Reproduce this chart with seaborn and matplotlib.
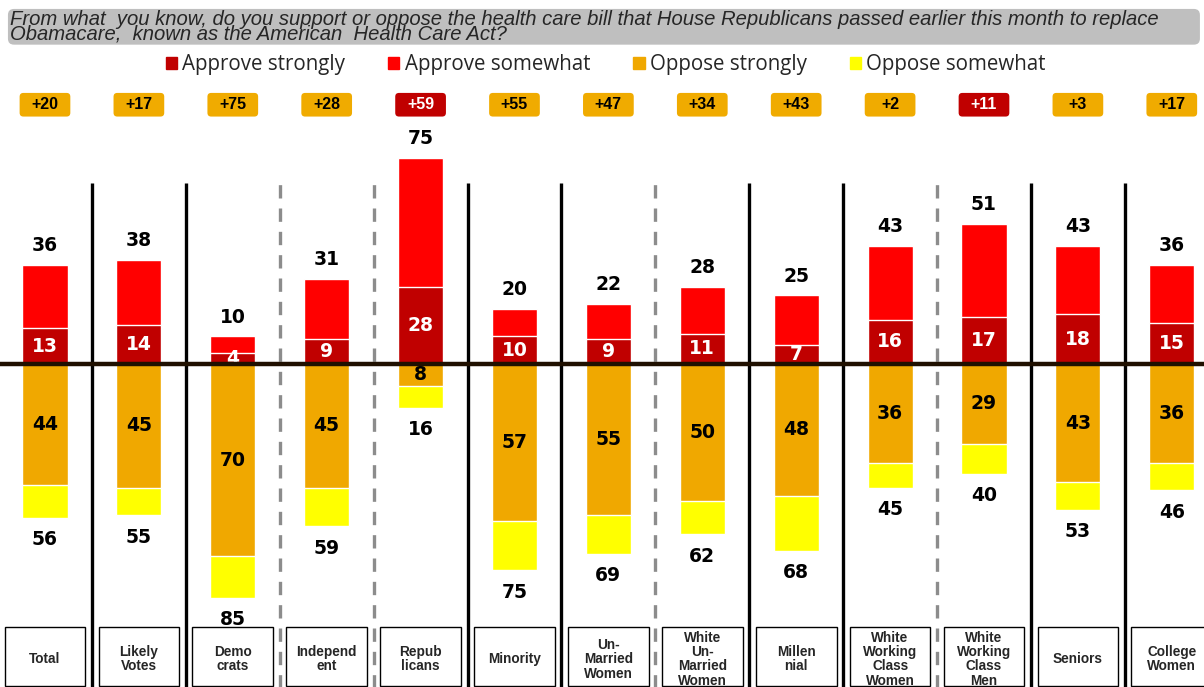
import pandas as pd
import seaborn as sns
import matplotlib.pyplot as plt
from matplotlib.patches import FancyBboxPatch, Rectangle, Patch

groups = ['Total', 'Likely\nVotes', 'Demo\ncrats', 'Independ\nent', 'Repub\nlicans', 'Minority',
          'Un-\nMarried\nWomen', 'White\nUn-\nMarried\nWomen', 'Millen\nnial',
          'White\nWorking\nClass\nWomen', 'White\nWorking\nClass\nMen', 'Seniors', 'College\nWomen']
approve_strong = [13, 14, 4, 9, 28, 10, 9, 11, 7, 16, 17, 18, 15]
approve_total = [36, 38, 10, 31, 75, 20, 22, 28, 25, 43, 51, 43, 36]
oppose_strong = [44, 45, 70, 45, 8, 57, 55, 50, 48, 36, 29, 43, 36]
oppose_total = [56, 55, 85, 59, 16, 75, 69, 62, 68, 45, 40, 53, 46]
net = ['+20', '+17', '+75', '+28', '+59', '+55', '+47', '+34', '+43', '+2', '+11', '+3', '+17']
net_side = ['oppose', 'oppose', 'oppose', 'oppose', 'approve', 'oppose', 'oppose', 'oppose',
            'oppose', 'oppose', 'approve', 'oppose', 'oppose']
# separator after each group: solid or dashed
separators = ['solid', 'solid', 'dashed', 'dashed', 'solid', 'solid', 'dashed', 'solid',
              'solid', 'dashed', 'solid', 'solid']

C_AS = '#C00000'
C_AW = '#FF0000'
C_OS = '#F0A800'
C_OW = '#FFFF00'

df = pd.DataFrame({'group': groups, 'as': approve_strong, 'at': approve_total,
                   'os': [-v for v in oppose_strong], 'ot': [-v for v in oppose_total]})

sns.set_style('white')
plt.rcParams['font.family'] = ['DejaVu Sans']

fig = plt.figure(figsize=(12.04, 6.87), dpi=100)
ax = fig.add_axes([0, 0, 1, 1])

bw = 0.48
for col, c in [('at', C_AW), ('as', C_AS), ('ot', C_OW), ('os', C_OS)]:
    sns.barplot(data=df, x='group', y=col, color=c, width=bw, ax=ax,
                edgecolor='white', linewidth=1, saturation=1, zorder=2)

ax.set_xlim(-0.479, 12.343)
ax.set_ylim(-117.5, 132.4)
ax.axis('off')

# zero line
ax.axhline(0, color='#201000', lw=3.2, zorder=4)

# separators
for i, s in enumerate(separators):
    if s == 'solid':
        ax.vlines(i + 0.5, -118, 66, color='black', lw=2.4, zorder=1)
    else:
        ax.vlines(i + 0.5, -118, 66, color='#8c8c8c', lw=2.4, linestyles=(0, (4, 3)), zorder=1)

lab = dict(fontsize=13.5, fontweight='bold', ha='center', va='center', zorder=6)
for i in range(len(groups)):
    ax.text(i, approve_total[i] + 7, str(approve_total[i]), color='black', **lab)
    ax.text(i, approve_strong[i] / 2, str(approve_strong[i]), color='white',
            **{**lab, 'zorder': 3})
    ax.text(i, -oppose_strong[i] / 2, str(oppose_strong[i]), color='black', **lab)
    ax.text(i, -oppose_total[i] - 8, str(oppose_total[i]), color='black', **lab)

    # net badge
    bc = C_AS if net_side[i] == 'approve' else '#F0AB00'
    tc = 'white' if net_side[i] == 'approve' else 'black'
    ax.add_patch(FancyBboxPatch((i - 0.27, 90.0), 0.54, 8.6,
                                boxstyle='round,pad=0,rounding_size=0.04',
                                mutation_aspect=34.1, fc=bc, ec='none', zorder=5))
    ax.text(i, 94.3, net[i], color=tc, fontsize=11.5, fontweight='bold',
            ha='center', va='center', family='Liberation Sans', zorder=6)

    # category box
    ax.add_patch(Rectangle((i - 0.43, -117.2), 0.86, 21.6, fc='white', ec='black',
                           lw=1, zorder=5))
    ax.text(i, -107.4, groups[i], fontsize=9.8, fontweight='bold', ha='center', va='center',
            family='Liberation Sans', linespacing=1.03, zorder=6)

# title band
fig.patches.append(FancyBboxPatch((0.0066, 0.935), 0.99, 0.052,
                                  boxstyle='round,pad=0,rounding_size=0.005',
                                  mutation_aspect=1204 / 687, fc='#BFBFBF', ec='none',
                                  transform=fig.transFigure, figure=fig, zorder=0))
fig.text(0.0083, 0.986, 'From what  you know, do you support or oppose the health care bill that House '
         'Republicans passed earlier this month to replace\nObamacare,  known as the American  Health Care Act?',
         fontsize=14.6, style='italic', family='Liberation Sans', color='#262626',
         ha='left', va='top', linespacing=0.72)

handles = [Patch(color=C_AS, label='Approve strongly'), Patch(color=C_AW, label='Approve somewhat'),
           Patch(color=C_OS, label='Oppose strongly'), Patch(color=C_OW, label='Oppose somewhat')]
leg = fig.legend(handles=handles, loc='center', bbox_to_anchor=(0.503, 0.906), ncol=4,
                 frameon=False, prop={'family': 'Open Sans', 'size': 14.8},
                 handlelength=0.55, handleheight=0.55, handletextpad=0.25, columnspacing=2.1)

fig.savefig('out.png', dpi=100)
